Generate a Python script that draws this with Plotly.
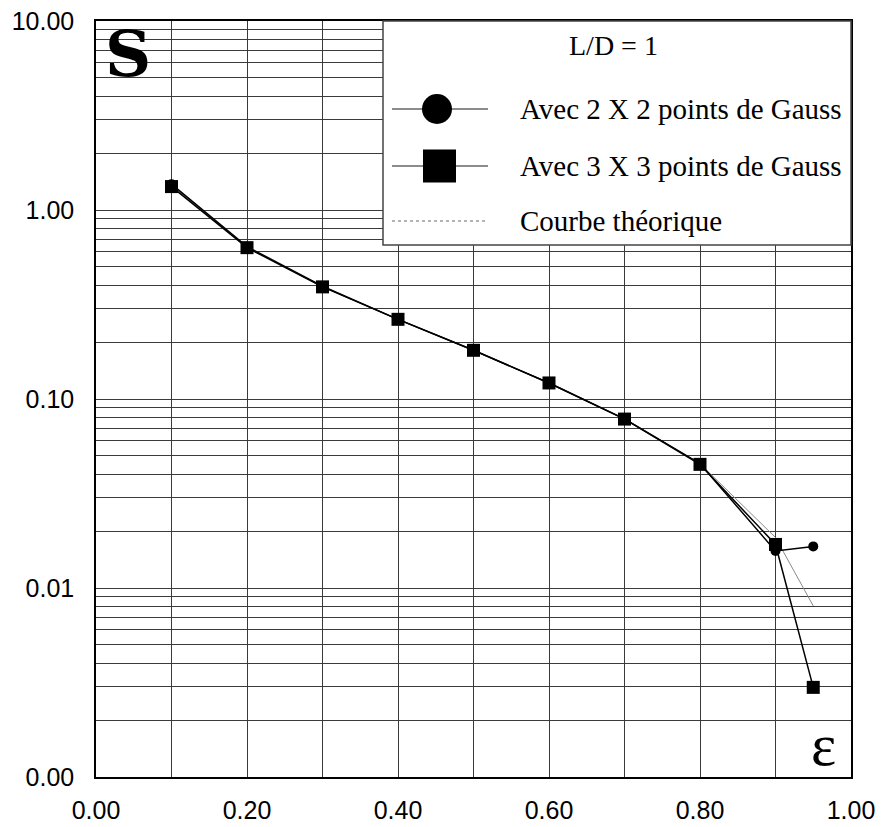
import plotly.graph_objects as go

# Eccentricity values (x) and Sommerfeld number S for each integration scheme
eps = [0.10, 0.20, 0.30, 0.40, 0.50, 0.60, 0.70, 0.80, 0.90, 0.95]
s_gauss_2x2 = [1.37, 0.640, 0.395, 0.264, 0.181, 0.1216, 0.0785, 0.0455, 0.0157, 0.0166]
s_gauss_3x3 = [1.33, 0.632, 0.392, 0.264, 0.181, 0.1216, 0.0783, 0.0451, 0.0170, 0.00298]
s_theory = [1.35, 0.636, 0.394, 0.264, 0.181, 0.1216, 0.0785, 0.0455, 0.0185, 0.00804]

x_tick_vals = [0.0, 0.2, 0.4, 0.6, 0.8, 1.0]
x_tick_text = ["0.00", "0.20", "0.40", "0.60", "0.80", "1.00"]
y_tick_vals = [0.001, 0.01, 0.1, 1, 10]
y_tick_text = ["0.00", "0.01", "0.10", "1.00", "10.00"]

legend_title = "L/D = 1"
legend_labels = ["Avec 2 X 2 points de Gauss", "Avec 3 X 3 points de Gauss", "Courbe théorique"]

# Figure geometry (pixels)
W, H = 881, 827
ML, MR, MT, MB = 96, 30, 21, 50
PW, PH = W - ML - MR, H - MT - MB


def px(x):
    return (x - ML) / PW


def py(y):
    return 1 - (y - MT) / PH


x_minor = [round(0.1 * i, 1) for i in range(1, 10)]
y_minor = [m * 10 ** e for e in range(-3, 1) for m in range(2, 10)]

fig = go.Figure()

fig.add_trace(go.Scatter(
    x=eps, y=s_theory, mode="lines",
    line=dict(color="#8a8a8a", width=1), name=legend_labels[2], showlegend=False))
fig.add_trace(go.Scatter(
    x=eps, y=s_gauss_2x2, mode="lines+markers",
    line=dict(color="black", width=1.5),
    marker=dict(symbol="circle", size=10, color="black"),
    name=legend_labels[0], showlegend=False))
fig.add_trace(go.Scatter(
    x=eps, y=s_gauss_3x3, mode="lines+markers",
    line=dict(color="black", width=1.5),
    marker=dict(symbol="square", size=13, color="black"),
    name=legend_labels[1], showlegend=False))

grid_col = "#3a3a3a"
tick_font = dict(family="Arial, 'Liberation Sans', sans-serif", size=25, color="black")
fig.update_xaxes(
    range=[0, 1], tickvals=x_tick_vals, ticktext=x_tick_text,
    showgrid=True, gridcolor=grid_col, gridwidth=1,
    minor=dict(tickvals=x_minor, showgrid=True, gridcolor=grid_col, gridwidth=1),
    showline=True, linecolor="black", linewidth=1.5, mirror=True,
    ticks="", ticklabelstandoff=10, zeroline=False, automargin=False,
    tickfont=tick_font)
fig.update_yaxes(
    type="log", range=[-3, 1], tickvals=y_tick_vals, ticktext=y_tick_text,
    showgrid=True, gridcolor=grid_col, gridwidth=1,
    minor=dict(tickvals=y_minor, showgrid=True, gridcolor=grid_col, gridwidth=1),
    showline=True, linecolor="black", linewidth=1.5, mirror=True,
    ticks="", ticklabelstandoff=15, zeroline=False, automargin=False,
    tickfont=tick_font)

# Legend panel drawn in the upper right corner of the plot area
shapes = [
    dict(type="rect", xref="paper", yref="paper",
         x0=px(383), x1=1.0, y0=py(245), y1=1.0,
         fillcolor="white", line=dict(color="#444", width=1.5), layer="above"),
]
row_y = [109, 166, 221]
for ry in row_y:
    dash = "dot" if ry == row_y[2] else "solid"
    col = "#9a9a9a" if ry == row_y[2] else "#666"
    shapes.append(dict(type="line", xref="paper", yref="paper",
                       x0=px(392), x1=px(488), y0=py(ry), y1=py(ry),
                       line=dict(color=col, width=1.5, dash=dash), layer="above"))
shapes.append(dict(type="circle", xref="paper", yref="paper",
                   x0=px(437 - 15), x1=px(437 + 15), y0=py(row_y[0] + 15), y1=py(row_y[0] - 15),
                   fillcolor="black", line=dict(color="black", width=0), layer="above"))
shapes.append(dict(type="rect", xref="paper", yref="paper",
                   x0=px(423), x1=px(456), y0=py(row_y[1] + 16.5), y1=py(row_y[1] - 16.5),
                   fillcolor="black", line=dict(color="black", width=0), layer="above"))

serif = "'Liberation Serif', 'Times New Roman', serif"
annotations = [
    dict(text=legend_title, xref="paper", yref="paper", x=px(613), y=py(45),
         xanchor="center", yanchor="middle", showarrow=False,
         font=dict(family=serif, size=28, color="black")),
]
for label, ry in zip(legend_labels, row_y):
    annotations.append(dict(text=label, xref="paper", yref="paper", x=px(518), y=py(ry),
                            xanchor="left", yanchor="middle", showarrow=False,
                            font=dict(family=serif, size=29, color="black")))

# Axis symbols inside the plot area
annotations.append(dict(text="<b>S</b>", xref="paper", yref="paper", x=px(128), y=py(53),
                        xanchor="center", yanchor="middle", showarrow=False,
                        font=dict(family="'DejaVu Serif', serif", size=64, color="black")))
annotations.append(dict(text="ε", xref="paper", yref="paper", x=px(823), y=py(745),
                        xanchor="center", yanchor="middle", showarrow=False,
                        font=dict(family=serif, size=60, color="black")))

fig.update_layout(
    width=W, height=H, margin=dict(l=ML, r=MR, t=MT, b=MB),
    paper_bgcolor="white", plot_bgcolor="white",
    shapes=shapes, annotations=annotations, showlegend=False)

fig.write_html("out.html")
